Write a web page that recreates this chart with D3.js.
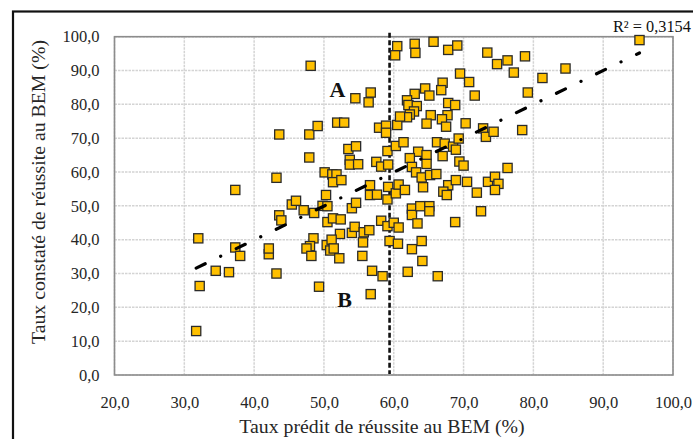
<!DOCTYPE html>
<html><head><meta charset="utf-8">
<script src="https://cdn.jsdelivr.net/npm/d3@7"></script>
<style>body{margin:0;background:#fff}svg{display:block}</style>
</head><body><svg id="c" width="693" height="439"></svg>
<script>
const predicted = [31.7,32.2,32.0,34.5,36.4,37.3,38.0,37.3,43.2,42.1,42.1,43.2,43.6,43.9,45.4,46.0,48.1,43.6,47.9,49.1,
51.9,52.9,47.9,50.1,51.2,51.8,51.3,52.5,50.3,53.5,54.6,53.7,53.7,54.9,47.1,48.6,49.8,50.5,54.0,54.6,
50.5,51.3,52.4,52.3,54.0,54.4,55.7,56.5,48.5,48.0,47.5,48.2,50.4,51.1,50.9,51.4,52.2,49.3,55.6,55.5,
56.9,58.4,56.7,54.5,56.7,56.4,57.9,58.9,58.9,60.5,60.2,60.5,57.5,58.2,59.2,59.1,60.3,56.6,56.6,57.6,
59.1,59.2,60.3,60.7,61.6,58.2,59.1,60.0,60.7,59.4,60.6,63.0,63.1,65.7,67.8,69.1,73.4,74.8,76.3,77.2,
78.8,95.2,84.6,81.3,79.2,78.4,69.5,70.8,71.6,67.0,66.8,64.5,65.1,63.0,61.9,62.1,63.3,62.9,62.3,61.9,
60.9,67.8,68.8,67.7,65.3,64.7,66.9,67.5,70.3,72.8,73.2,74.3,61.4,66.2,67.3,68.5,69.3,68.9,63.5,62.3,
64.7,67.0,64.7,62.6,63.2,64.0,64.2,65.2,66.1,69.4,70.0,76.3,67.8,67.1,67.6,68.9,70.5,71.9,73.5,74.5,
75.0,74.5,62.6,62.6,63.8,65.1,65.1,63.4,62.6,64.0,64.1,62.0,66.3,68.8,72.5];
const observed = [13.0,26.3,40.4,30.8,30.4,37.7,35.2,54.7,58.3,35.7,37.4,30.0,47.2,45.7,50.4,51.5,91.4,71.1,71.1,73.6,
74.6,74.6,64.3,59.9,59.3,59.3,57.0,57.6,53.2,66.8,67.6,63.6,62.2,62.3,48.7,47.9,50.0,49.9,49.3,50.9,
45.2,46.3,46.0,41.7,42.0,43.8,42.2,42.8,40.4,38.1,37.4,35.2,38.4,40.0,36.8,37.4,34.5,26.1,39.2,35.2,
30.8,29.2,23.9,81.8,83.5,80.6,73.1,73.7,71.6,97.2,94.5,73.9,63.0,61.6,62.2,66.2,67.7,56.1,53.2,53.3,
51.9,55.6,53.7,56.3,54.7,45.6,44.0,45.0,43.6,39.6,38.8,97.9,95.2,98.5,96.1,97.4,95.3,91.9,93.0,89.4,
94.2,99.0,90.6,87.8,83.5,72.4,89.1,86.6,82.6,86.4,84.2,84.7,82.6,83.1,81.2,79.8,79.5,77.9,77.0,76.2,
76.4,80.4,79.8,76.8,76.8,74.3,75.6,73.4,74.4,72.9,70.4,71.9,68.8,68.8,68.4,67.5,69.9,66.6,66.0,64.1,
65.0,64.7,62.4,61.5,59.9,58.4,55.5,59.1,59.4,63.1,61.9,61.2,56.1,54.2,53.2,57.6,57.1,53.9,57.1,58.6,
56.5,54.7,49.2,47.3,49.9,49.9,48.4,44.8,37.2,39.6,33.7,30.5,29.2,45.2,48.4];
const xTicks = [20,30,40,50,60,70,80,90,100];
const yTicks = [0,10,20,30,40,50,60,70,80,90,100];
const thresholdX = 59.4;
const trendX = [31.7, 95.2];
const trendY = [31.6, 95.2];
const r2Label = "R² = 0,3154";
const xTitle = "Taux prédit de réussite au BEM (%)";
const yTitle = "Taux constaté de réussite au BEM (%)";
const zoneLabels = [{t:"A", x:50.8, y:82.3}, {t:"B", x:51.9, y:20.2}];

const svg = d3.select("#c");
const L=114.5, R=673, T=36.7, B=375;
const x = d3.scaleLinear([20,100],[L,R]);
const y = d3.scaleLinear([0,100],[B,T]);
const fmt = d => d.toFixed(1).replace(".", ",");
const font = "'Liberation Serif','Times New Roman',serif";

svg.append("rect").attr("x",13).attr("y",11.5).attr("width",720).attr("height",460)
  .attr("fill","#fff").attr("stroke","#111").attr("stroke-width",2.2);

// grid
const grid = svg.append("g");
grid.selectAll("line.v").data(xTicks).join("line")
  .attr("x1",d=>x(d)).attr("x2",d=>x(d)).attr("y1",T).attr("y2",B)
  .attr("stroke","#d4d4d4").attr("stroke-width",1.5).attr("stroke-dasharray","2.5,1");
grid.selectAll("line.h").data(yTicks).join("line")
  .attr("y1",d=>y(d)).attr("y2",d=>y(d)).attr("x1",L).attr("x2",R)
  .attr("stroke","#d4d4d4").attr("stroke-width",1.5).attr("stroke-dasharray","2.5,1");
svg.append("rect").attr("x",L).attr("y",T).attr("width",R-L).attr("height",B-T)
  .attr("fill","none").attr("stroke","#8c8c8c").attr("stroke-width",1.6);

// axes labels
const xa = svg.append("g").attr("transform",`translate(0,${B})`)
  .call(d3.axisBottom(x).tickValues(xTicks).tickFormat(fmt).tickSize(0).tickPadding(21));
const ya = svg.append("g").attr("transform",`translate(${L},0)`)
  .call(d3.axisLeft(y).tickValues(yTicks).tickFormat(fmt).tickSize(0).tickPadding(15));
[xa,ya].forEach(a=>{a.select(".domain").remove();
  a.selectAll("text").attr("font-family",font).attr("font-size","16.5px").attr("fill","#262626");});

// vertical threshold
svg.append("line").attr("x1",x(thresholdX)).attr("x2",x(thresholdX)).attr("y1",T-4).attr("y2",B-1)
  .attr("stroke","#111").attr("stroke-width",2.6).attr("stroke-dasharray","5,2.5");

// points
svg.append("g").selectAll("rect").data(predicted.map((p,i)=>[p,observed[i]])).join("rect")
  .attr("x",d=>x(d[0])-4.6).attr("y",d=>y(d[1])-4.6).attr("width",9.2).attr("height",9.2)
  .attr("fill","#FFC000").attr("stroke","#2b2b2b").attr("stroke-width",1.3);

// trendline
svg.append("line").attr("x1",x(trendX[0])).attr("y1",y(trendY[0])).attr("x2",x(trendX[1])).attr("y2",y(trendY[1]))
  .attr("stroke","#000").attr("stroke-width",3.2).attr("stroke-linecap","round").attr("stroke-dasharray","10,17.2,0.1,17.2");

svg.append("text").attr("x",613).attr("y",32).text(r2Label)
  .attr("font-family",font).attr("font-size","16.3px").attr("fill","#111");

svg.selectAll("text.z").data(zoneLabels).join("text").attr("class","z")
  .attr("x",d=>x(d.x)).attr("y",d=>y(d.y)).text(d=>d.t)
  .attr("font-family",font).attr("font-size","22px").attr("font-weight","bold").attr("fill","#111");

svg.append("text").attr("x",382).attr("y",433).attr("text-anchor","middle").text(xTitle)
  .attr("font-family",font).attr("font-size","19.8px").attr("fill","#262626");
svg.append("text").attr("transform","translate(45,192) rotate(-90)").attr("text-anchor","middle").text(yTitle)
  .attr("font-family",font).attr("font-size","19.8px").attr("fill","#262626");
</script></body></html>
